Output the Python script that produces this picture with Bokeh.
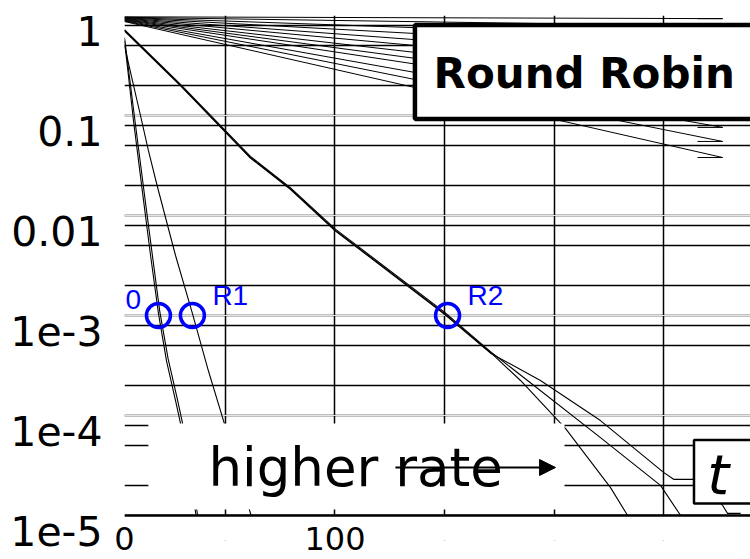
from bokeh.plotting import figure
from bokeh.models import (Range1d, FixedTicker, BoxAnnotation, Label, Arrow,
                          NormalHead, ColumnDataSource, LogAxis, LogScale, Grid, Span)
from bokeh.embed import file_html
from bokeh.resources import INLINE
from bokeh.core.properties import value

# ---------------- data ----------------
# curve "0" (two nearly identical runs)
zero_x = [3.9, 8.0, 12.6, 15.8, 19.4, 23.1, 27.2, 29.5, 33.1, 36.6]
zero_y = [0.56, 0.089, 0.0141, 0.00398, 0.00105, 3.5e-4, 1.41e-4, 8.3e-5, 2.8e-5, 1.0e-5]
zero2_x = [3.9, 8.5, 13.2, 16.5, 20.0, 23.8, 27.9, 30.2, 33.8, 37.3]
zero2_y = [0.60, 0.095, 0.0150, 0.00420, 0.00110, 3.7e-4, 1.5e-4, 8.8e-5, 3.0e-5, 1.0e-5]

# curve "R1"
r1_x = [3.9, 7.5, 11.2, 14.8, 18.9, 27.2, 34.9, 42.2, 49.5, 55.4, 61.7]
r1_y = [0.50, 0.224, 0.100, 0.0447, 0.0195, 0.00398, 0.00105, 2.8e-4, 8.3e-5, 2.95e-5, 1.0e-5]

# curve "R2" (three runs, common start, diverging tail)
r2a_x = [3.9, 29.5, 61.4, 79.6, 100.2, 150.0, 171.0, 184.7, 205.3, 225.8, 233.6]
r2a_y = [0.71, 0.20, 0.038, 0.0186, 0.0071, 0.00105, 4.27e-4, 2.24e-4, 7.4e-5, 1.9e-5, 1.0e-5]
r2b_x = [3.9, 29.5, 61.4, 79.6, 100.2, 150.0, 171.0, 187.9, 221.2, 248.6, 257.8]
r2b_y = [0.72, 0.205, 0.039, 0.0190, 0.0073, 0.00108, 4.35e-4, 2.24e-4, 6.0e-5, 2.0e-5, 1.0e-5]
r2c_x = [3.9, 29.5, 61.4, 79.6, 100.2, 150.0, 171.0, 193.8, 221.2, 250.0, 254.6, 263.7, 277.0, 279.2, 285.2]
r2c_y = [0.70, 0.198, 0.0375, 0.0183, 0.0070, 0.00103, 4.2e-4, 2.24e-4, 8.9e-5, 2.7e-5, 2.3e-5, 2.3e-5, 1.26e-5, 1.05e-5, 1.05e-5]

# top fan of slow-decaying runs: start value, end value
fan_start = [0.97, 0.96, 0.955, 0.95, 0.94, 0.93, 0.92, 0.91, 0.90, 0.89, 0.88, 0.87]
fan_end = [0.93, 0.78, 0.59, 0.45, 0.34, 0.26, 0.19, 0.145, 0.112, 0.076, 0.055, 0.038]
fan_x = [3.9, 277.0, 265.5]

# marked points where runs reach 1e-3
mark_x = [19.4, 34.9, 151.4]
mark_y = [1.0e-3, 1.0e-3, 1.0e-3]
mark_txt = ["0", "R1", "R2"]

ytick_vals = [1, 0.1, 0.01, 1e-3, 1e-4, 1e-5]
ytick_txt = ["1", "0.1", "0.01", "1e-3", "1e-4", "1e-5"]
xgrid_vals = [50, 100, 150, 200, 250]
xtick_vals = [3.9, 100]
xtick_txt = ["0", "100"]
ygrid_vals = []
for k in range(0, 6):
    d = 10.0 ** (-k)
    ygrid_vals.append(d)
    if k < 5:
        ygrid_vals += [0.8 * d, 0.5 * d, 0.2 * d]

# ---------------- figure ----------------
# frame: 100 px per decade, 1 at the top edge; the frame runs a little below 1e-5
p = figure(width=750, height=559, y_axis_type="log", y_axis_location=None,
           x_range=Range1d(3.9, 289.7), y_range=Range1d(10 ** -5.25, 1.0),
           output_backend="svg", toolbar_location=None,
           min_border_left=124, min_border_right=0, min_border_top=15,
           min_border_bottom=19)
p.outline_line_color = None
p.background_fill_color = "white"
p.border_fill_color = "white"

# tick-label axis: labels hang below their decade line (top edge on the line)
p.extra_y_ranges = {"lab": Range1d(10 ** -5.095, 10 ** 0.155)}
p.extra_y_scales = {"lab": LogScale()}
yax = LogAxis(y_range_name="lab", ticker=FixedTicker(ticks=ytick_vals))
yax.major_label_overrides = {ytick_vals[i]: ytick_txt[i] for i in range(len(ytick_vals))}
yax.axis_line_color = None
yax.major_tick_in = 0
yax.major_tick_out = 0
yax.minor_tick_in = 0
yax.minor_tick_out = 0
yax.major_label_text_font = "DejaVu Sans"
yax.major_label_text_font_size = "41px"
yax.major_label_text_color = "black"
yax.major_label_standoff = 22
p.add_layout(yax, "left")

p.xgrid.ticker = FixedTicker(ticks=xgrid_vals)
ygrid = Grid(dimension=1, ticker=FixedTicker(ticks=ygrid_vals))
p.add_layout(ygrid)
for g in (p.xgrid[0], ygrid):
    g.grid_line_color = "black"
    g.grid_line_width = 1.5
    g.grid_line_alpha = 1.0
    g.level = "image"

# white strip below the 1e-5 line hides the grid there
p.add_layout(BoxAnnotation(top=1e-5, fill_color="white", fill_alpha=1.0,
                           line_color=None, level="underlay"))

xax = p.xaxis[0]
xax.ticker = FixedTicker(ticks=xtick_vals)
xax.major_label_overrides = {xtick_vals[i]: xtick_txt[i] for i in range(len(xtick_vals))}
xax.axis_line_color = None
xax.major_tick_in = 0
xax.major_tick_out = 0
xax.minor_tick_in = 0
xax.minor_tick_out = 0
xax.major_label_text_font = "DejaVu Sans"
xax.major_label_text_font_size = "32px"
xax.major_label_text_color = "black"
xax.major_label_text_line_height = 0.6
xax.major_label_standoff = -14

p.add_layout(Span(location=1e-5, dimension="width", line_color="black", line_width=2.5))

# fan
for s, e in zip(fan_start, fan_end):
    p.line(fan_x, [s, e, e], line_color="black", line_width=1)

for xs, ys in [(zero_x, zero_y), (zero2_x, zero2_y), (r1_x, r1_y),
               (r2a_x, r2a_y), (r2b_x, r2b_y), (r2c_x, r2c_y)]:
    p.line(xs, ys, line_color="black", line_width=1.1)

# white cover box with "higher rate"
p.add_layout(BoxAnnotation(left=14.8, right=204.8, bottom=10 ** -4.94, top=10 ** -4.08,
                           fill_color="white", fill_alpha=1.0, line_color=None))
p.add_layout(Label(x=42.2, y=10 ** -4.515, text="higher rate", text_font="DejaVu Sans",
                   text_font_size="53px", text_color="black", text_baseline="middle"))
p.add_layout(Arrow(x_start=127.6, y_start=10 ** -4.52, x_end=200.7, y_end=10 ** -4.52,
                   line_color="black", line_width=2,
                   end=NormalHead(size=16, fill_color="black", line_color="black")))

# "t" box
p.add_layout(BoxAnnotation(left=263.9, right=300, bottom=10 ** -4.88, top=10 ** -4.245,
                           fill_color="white", fill_alpha=1.0, line_color="black",
                           line_alpha=1.0, line_width=2.5))
p.add_layout(Label(x=270.0, y=10 ** -4.585, text="t", text_font="DejaVu Sans",
                   text_font_style="italic", text_font_size="56px", text_color="black",
                   text_baseline="middle"))

# "Round Robin" box
p.add_layout(BoxAnnotation(left=136.5, right=300, bottom=10 ** -1.035, top=10 ** -0.095,
                           fill_color="white", fill_alpha=1.0, line_color="black",
                           line_alpha=1.0, line_width=4.5))
p.add_layout(Label(x=145.0, y=10 ** -0.58, text="Round Robin", text_font="DejaVu Sans",
                   text_font_style="bold", text_font_size="42px", text_color="black",
                   text_baseline="middle"))

# blue marked points
src = ColumnDataSource(dict(x=mark_x, y=mark_y, t=mark_txt))
p.scatter("x", "y", source=src, marker="circle", size=24, fill_color=None,
          line_color="#0000ff", line_width=3.5)
p.text(x=[mark_x[0]], y=[mark_y[0]], text=[mark_txt[0]], x_offset=-33, y_offset=-16,
       text_color="#0000ff", text_font=value("Liberation Sans"), text_font_size="28px",
       text_baseline="middle")
p.text(x=mark_x[1:], y=mark_y[1:], text=mark_txt[1:], x_offset=20, y_offset=-20,
       text_color="#0000ff", text_font=value("Liberation Sans"), text_font_size="28px",
       text_baseline="middle")

open("out.html", "w").write(file_html(p, INLINE))
